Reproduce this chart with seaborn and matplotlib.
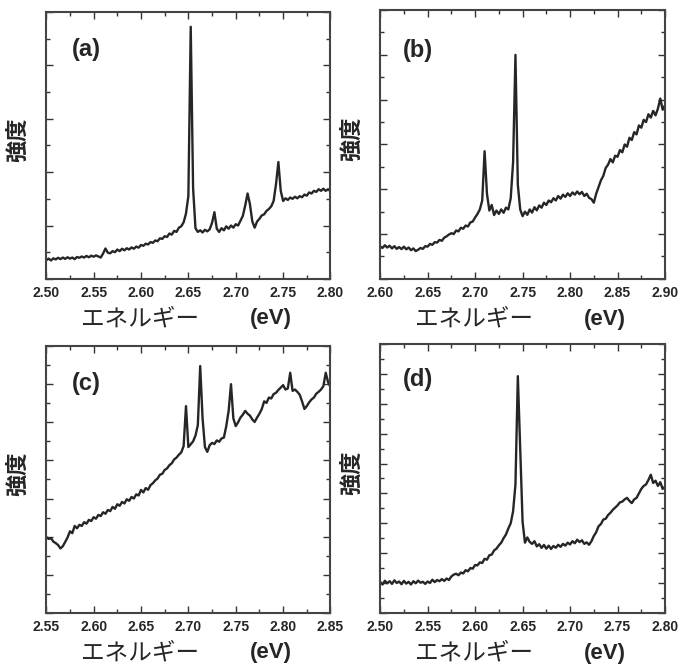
import numpy as np
import seaborn as sns
import matplotlib.pyplot as plt
from matplotlib.ticker import MultipleLocator

sns.set_style('ticks')
plt.rcParams['font.family'] = ['Liberation Sans', 'Noto Sans CJK JP', 'DejaVu Sans']

range_a = (2.50, 2.80)
int_a = [0.70, 0.76, 0.69, 0.77, 0.73, 0.79, 0.74, 0.80, 0.75, 0.81,
         0.76, 0.80, 0.74, 0.82, 0.79, 0.84, 0.80, 0.86, 0.81, 0.87,
         0.83, 0.88, 0.84, 0.80, 0.95, 1.14, 0.98, 0.96, 1.04, 1.00,
         1.10, 1.04, 1.13, 1.07, 1.15, 1.10, 1.18, 1.13, 1.21, 1.17,
         1.27, 1.24, 1.32, 1.29, 1.38, 1.35, 1.44, 1.41, 1.52, 1.50,
         1.60, 1.57, 1.70, 1.66, 1.80, 1.76, 1.92, 1.97, 2.12, 2.45,
         3.10, 9.45, 3.40, 1.90, 1.76, 1.82, 1.74, 1.84, 1.78, 1.86,
         2.10, 2.50, 1.88, 1.76, 1.90, 1.82, 1.97, 1.88, 2.00, 1.92,
         2.05, 2.00, 2.18, 2.36, 2.75, 3.20, 2.80, 2.15, 1.92, 2.15,
         2.25, 2.38, 2.42, 2.55, 2.62, 2.72, 2.92, 3.55, 4.38, 3.30,
         2.92, 3.02, 2.96, 3.05, 3.00, 3.08, 3.02, 3.10, 3.06, 3.16,
         3.12, 3.24, 3.20, 3.30, 3.26, 3.36, 3.30, 3.38, 3.30, 3.36,
         3.28]

range_b = (2.60, 2.90)
int_b = [1.45, 1.38, 1.50, 1.40, 1.48, 1.36, 1.46, 1.34, 1.42, 1.33,
         1.44, 1.32, 1.40, 1.28, 1.36, 1.24, 1.30, 1.38, 1.34, 1.46,
         1.44, 1.56, 1.52, 1.64, 1.62, 1.74, 1.70, 1.84, 1.90, 1.98,
         2.04, 2.00, 2.16, 2.12, 2.28, 2.24, 2.38, 2.34, 2.52, 2.56,
         2.74, 2.90, 3.10, 3.50, 5.70, 3.80, 3.05, 3.30, 2.85, 3.05,
         2.90, 3.10, 2.95, 3.18, 3.10, 3.60, 5.20, 10.0, 4.20, 3.10,
         2.80, 3.00, 2.86, 3.10, 2.96, 3.20, 3.06, 3.28, 3.18, 3.40,
         3.30, 3.50, 3.42, 3.60, 3.50, 3.70, 3.58, 3.76, 3.66, 3.82,
         3.70, 3.86, 3.76, 3.90, 3.78, 3.88, 3.70, 3.80, 3.62, 3.56,
         3.40, 3.80, 4.10, 4.40, 4.60, 4.95, 5.10, 5.35, 5.20, 5.50,
         5.45, 5.75, 5.65, 6.00, 5.90, 6.30, 6.20, 6.55, 6.45, 6.85,
         6.75, 7.10, 7.00, 7.35, 7.20, 7.50, 7.30, 7.60, 8.05, 7.55,
         7.75]

range_c = (2.55, 2.85)
int_c = [3.98, 3.88, 3.92, 3.74, 3.66, 3.56, 3.38, 3.50, 3.72, 3.96,
         4.28, 4.18, 4.56, 4.44, 4.62, 4.56, 4.76, 4.68, 4.88, 4.82,
         5.02, 4.94, 5.14, 5.08, 5.28, 5.20, 5.40, 5.34, 5.56, 5.46,
         5.70, 5.62, 5.82, 5.74, 5.96, 5.88, 6.08, 6.00, 6.22, 6.16,
         6.45, 6.32, 6.55, 6.46, 6.70, 6.80, 6.95, 7.05, 7.25, 7.30,
         7.50, 7.58, 7.75, 7.85, 8.05, 8.15, 8.30, 8.42, 8.75, 10.85,
         8.70, 8.85, 9.00, 9.30, 9.85, 12.95, 10.20, 8.70, 8.45, 8.80,
         8.92, 8.86, 9.05, 8.98, 9.15, 9.20, 9.80, 10.60, 12.00, 10.20,
         9.80, 10.00, 10.25, 10.40, 10.60, 10.45, 10.35, 10.15, 10.02, 10.25,
         10.45, 10.70, 11.10, 11.02, 11.30, 11.25, 11.48, 11.55, 11.70, 11.82,
         11.95, 11.72, 11.78, 12.60, 11.65, 11.72, 11.60, 11.45, 11.10, 10.70,
         10.85, 11.05, 11.20, 11.30, 11.50, 11.60, 11.72, 11.90, 12.60, 12.10,
         11.85]

range_d = (2.50, 2.80)
int_d = [2.08, 1.90, 2.15, 1.98, 2.12, 1.94, 2.18, 2.00, 2.10, 1.92,
         2.14, 1.96, 2.08, 1.90, 2.12, 1.98, 2.16, 2.02, 2.08, 1.94,
         2.10, 2.00, 2.22, 2.06, 2.20, 2.12, 2.26, 2.14, 2.30, 2.20,
         2.44, 2.56, 2.62, 2.52, 2.70, 2.64, 2.86, 2.78, 3.00, 2.96,
         3.20, 3.18, 3.38, 3.34, 3.62, 3.56, 3.86, 3.90, 4.18, 4.30,
         4.52, 4.70, 5.00, 5.25, 5.65, 6.00, 6.80, 8.60, 15.85, 11.00,
         6.10, 4.70, 5.05, 4.75, 4.62, 4.80, 4.45, 4.60, 4.35, 4.55,
         4.30, 4.50, 4.28, 4.48, 4.36, 4.56, 4.42, 4.62, 4.50, 4.70,
         4.58, 4.80, 4.66, 4.90, 4.74, 4.86, 4.62, 4.72, 4.56, 4.80,
         5.15, 5.40, 5.80, 5.95, 6.25, 6.30, 6.55, 6.70, 6.90, 7.05,
         7.20, 7.40, 7.45, 7.60, 7.70, 7.50, 7.35, 7.60, 7.70, 8.00,
         8.30, 8.50, 8.60, 8.90, 9.25, 8.70, 8.85, 8.50, 8.75, 8.30,
         8.45]

panel_tags = ['(a)', '(b)', '(c)', '(d)']
x_label_jp = 'エネルギー'
x_label_unit = '(eV)'
y_label = '強度'

panels = [
    (range_a, int_a, 10, [0.068, 0.585, 0.418, 0.397], (0.09, 0.86)),
    (range_b, int_b, 12, [0.559, 0.585, 0.419, 0.400], (0.08, 0.85)),
    (range_c, int_c, 14, [0.068, 0.088, 0.418, 0.397], (0.09, 0.86)),
    (range_d, int_d, 18, [0.559, 0.088, 0.419, 0.400], (0.08, 0.87)),
]

fig = plt.figure(figsize=(6.8, 6.72), dpi=100)
cjk = ['Noto Sans CJK JP', 'DejaVu Sans']

for (xr, vals, ytop, pos, tagpos), tag in zip(panels, panel_tags):
    ax = fig.add_axes(pos)
    energy = np.linspace(xr[0], xr[1], len(vals))
    sns.lineplot(x=energy, y=vals, ax=ax, color='#262626', lw=1.7)
    ax.set_xlim(*xr)
    ax.set_ylim(0, ytop)
    ax.xaxis.set_minor_locator(MultipleLocator(0.025))
    ax.yaxis.set_major_locator(MultipleLocator(2))
    ax.yaxis.set_minor_locator(MultipleLocator(1))
    ticks = np.round(np.arange(xr[0], xr[1] + 0.001, 0.05), 2)
    ax.set_xticks(ticks)
    ax.set_xticklabels([f'{t:.2f}' for t in ticks], fontweight='bold', fontsize=10)
    ax.set_yticklabels([])
    ax.tick_params(which='both', direction='in', top=True, right=True,
                   width=1, color='#333333')
    ax.tick_params(which='major', length=5, pad=5)
    ax.tick_params(which='minor', length=3)
    for s in ax.spines.values():
        s.set_linewidth(1.5)
        s.set_color('#444444')

    ax.text(tagpos[0], tagpos[1], tag, transform=ax.transAxes, fontsize=17,
            fontweight='bold', va='center', ha='left')
    ax.text(0.33, -0.15, x_label_jp, transform=ax.transAxes, fontsize=17,
            family=cjk, ha='center', va='center')
    ax.text(0.79, -0.15, x_label_unit, transform=ax.transAxes, fontsize=16,
            fontweight='bold', ha='center', va='center')
    ax.text(-0.1, 0.52, y_label, transform=ax.transAxes, fontsize=16,
            family=cjk, fontweight='bold', rotation=90, ha='center', va='center')

plt.savefig('out.png', dpi=100)
